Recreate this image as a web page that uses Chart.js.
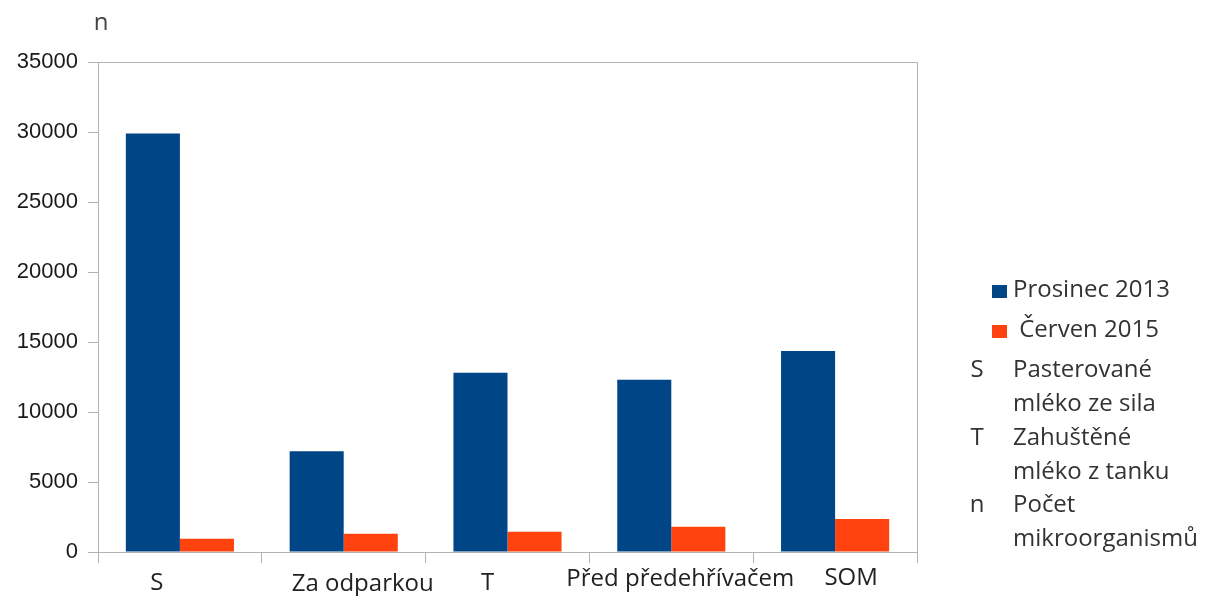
<!DOCTYPE html>
<html>
<head>
<meta charset="utf-8">
<script src="https://cdn.jsdelivr.net/npm/chart.js@4/dist/chart.umd.min.js"></script>
<style>
  html, body { margin: 0; padding: 0; background: #fff; }
</style>
</head>
<body>
<canvas id="barChart" width="1208" height="596"></canvas>
<script>
// Odběrová místa
const mista = ['S', 'Za odparkou', 'T', 'Před předehřívačem', 'SOM'];
// Počet mikroorganismů v jednotlivých odběrech
const prosinec2013 = [29900, 7200, 12800, 12300, 14350];
const cerven2015 = [950, 1300, 1450, 1800, 2350];
const serie = ['Prosinec 2013', 'Červen 2015'];
const osaY = 'n';
// Vysvětlivky zkratek
const zkratky = [
    ['S', 'Pasterované', 'mléko ze sila'],
    ['T', 'Zahuštěné', 'mléko z tanku'],
    ['n', 'Počet', 'mikroorganismů']
];

const seda = '#b3b3b3';
const pismo = '"Open Sans", sans-serif';

// Rámeček grafu, popisky osy X, název osy Y a legenda
const popisky = {
    id: 'popisky',
    afterDraw(chart, args, opts) {
        const ctx = chart.ctx;
        const a = chart.chartArea;
        ctx.save();

        ctx.strokeStyle = seda;
        ctx.lineWidth = 1;
        ctx.beginPath();
        ctx.moveTo(a.left, a.top + 0.5);
        ctx.lineTo(a.right + 0.5, a.top + 0.5);
        ctx.lineTo(a.right + 0.5, a.bottom);
        ctx.stroke();

        // popisky kategorií
        const x = chart.scales.x;
        ctx.fillStyle = '#222';
        ctx.font = '24px ' + pismo;
        ctx.textAlign = 'center';
        ctx.textBaseline = 'alphabetic';
        mista.forEach((m, i) => {
            const [dx, y] = opts.posuny[i];
            ctx.fillText(m, x.getPixelForValue(i) + dx, y);
        });

        // název osy Y
        ctx.fillStyle = '#444';
        ctx.fillText(osaY, a.left + 3, 30);

        // legenda
        ctx.textAlign = 'left';
        chart.data.datasets.forEach((ds, i) => {
            const y = 297 + i * 40;
            ctx.fillStyle = ds.backgroundColor;
            ctx.fillRect(992, y - 12, 15, 13);
            ctx.fillStyle = '#333';
            ctx.fillText((i === 1 ? ' ' : '') + ds.label, 1013, y);
        });
        ctx.fillStyle = '#333';
        zkratky.forEach((z, i) => {
            const y = 377 + i * 67.5;
            ctx.textAlign = 'center';
            ctx.fillText(z[0], 977, y);
            ctx.textAlign = 'left';
            ctx.fillText(z[1], 1013, y);
            ctx.fillText(z[2], 1013, y + 34);
        });

        ctx.restore();
    }
};

const ctx = document.getElementById('barChart').getContext('2d');
const barChart = new Chart(ctx, {
    type: 'bar',
    data: {
        labels: mista,
        datasets: [{
            label: serie[0],
            data: prosinec2013,
            backgroundColor: '#004586'
        }, {
            label: serie[1],
            data: cerven2015,
            backgroundColor: '#ff420e'
        }]
    },
    options: {
        responsive: false,
        animation: false,
        devicePixelRatio: 1,
        categoryPercentage: 0.66,
        barPercentage: 1.0,
        layout: {
            padding: { top: 62, right: 291, left: 0, bottom: 0 }
        },
        scales: {
            x: {
                grid: {
                    offset: true,
                    drawOnChartArea: false,
                    tickLength: 11,
                    color: seda
                },
                border: { color: seda },
                ticks: { display: false },
                afterFit: s => { s.height = 44; }
            },
            y: {
                min: 0,
                max: 35000,
                ticks: {
                    stepSize: 5000,
                    padding: 10,
                    color: '#1a1a1a',
                    font: { family: '"Liberation Sans", sans-serif', size: 22 },
                    callback: v => String(v)
                },
                grid: {
                    drawOnChartArea: false,
                    tickLength: 10,
                    color: seda
                },
                border: { color: seda },
                afterFit: s => { s.width = 98; }
            }
        },
        plugins: {
            legend: { display: false },
            tooltip: { enabled: false },
            popisky: {
                posuny: [[-23, 590], [19, 591], [-20, 590], [9, 586], [16, 585]]
            }
        }
    },
    plugins: [popisky]
});
</script>
</body>
</html>
